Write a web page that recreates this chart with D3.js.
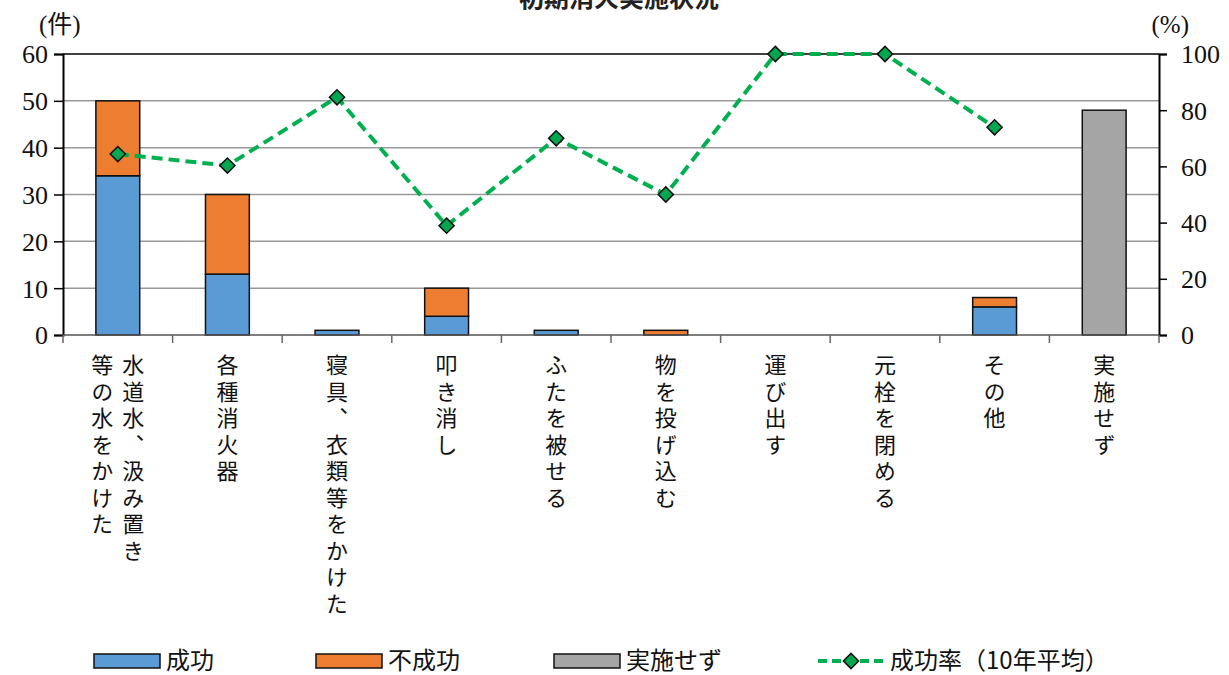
<!DOCTYPE html>
<html><head><meta charset="utf-8">
<script src="https://cdn.jsdelivr.net/npm/d3@7"></script>
<style>
html,body{margin:0;padding:0;background:#fff;}
svg{display:block;}
</style></head>
<body><svg id="chart" width="1229" height="675"></svg>
<script>
const title = "初期消火実施状況";
const categories = ["水道水、汲み置き\n等の水をかけた","各種消火器","寝具、衣類等をかけた","叩き消し","ふたを被せる","物を投げ込む","運び出す","元栓を閉める","その他","実施せず"];
const success =   [34, 13, 1, 4, 1, 0, 0, 0, 6, 0];
const failure =   [16, 17, 0, 6, 0, 1, 0, 0, 2, 0];
const notDone =   [0, 0, 0, 0, 0, 0, 0, 0, 0, 48];
const rate =      [64.4, 60.3, 84.6, 38.9, 70.0, 50.0, 100, 100, 73.9, null];
const leftTicks = [0,10,20,30,40,50,60];
const rightTicks = [0,20,40,60,80,100];
const legendLabels = ["成功","不成功","実施せず","成功率（10年平均）"];
const colors = {success:"#5B9BD5", failure:"#ED7D31", notDone:"#A5A5A5", line:"#00B050", marker:"#00A650"};

const svg = d3.select("#chart");
const L = 63, R = 1159, T = 54, B = 335;
const jp = "Noto Sans CJK JP, sans-serif";
const num = "Liberation Serif, Times New Roman, DejaVu Serif, serif";

const x = d3.scaleBand().domain(categories).range([L, R]).paddingInner(0.6).paddingOuter(0.3);
const yL = d3.scaleLinear().domain([0, 60]).range([B, T]);
const yR = d3.scaleLinear().domain([0, 100]).range([B, T]);
const gap = (x.step() - x.bandwidth()) / 2;

// title (cut off at top)
svg.append("text").attr("x", 619).attr("y", 7).attr("text-anchor", "middle")
  .style("font-family", jp).style("font-size", "25px").style("font-weight", "bold").attr("fill", "#222").text(title);

// gridlines
svg.append("g").selectAll("line").data(leftTicks.filter(d => d > 0 && d < 60)).join("line")
  .attr("x1", L).attr("x2", R).attr("y1", d => yL(d)).attr("y2", d => yL(d))
  .attr("stroke", "#999").attr("stroke-width", 1.5);
// top border
svg.append("line").attr("x1", L).attr("x2", R).attr("y1", yL(60)).attr("y2", yL(60)).attr("stroke", "#000").attr("stroke-width", 1.5);

// bars
const bars = svg.append("g");
categories.forEach((c, i) => {
  const segs = [];
  let base = 0;
  if (success[i] > 0) { segs.push({v0: base, v1: base + success[i], col: colors.success}); base += success[i]; }
  if (failure[i] > 0) { segs.push({v0: base, v1: base + failure[i], col: colors.failure}); base += failure[i]; }
  if (notDone[i] > 0) { segs.push({v0: base, v1: base + notDone[i], col: colors.notDone}); base += notDone[i]; }
  segs.forEach(s => {
    bars.append("rect").attr("x", x(c)).attr("width", x.bandwidth())
      .attr("y", yL(s.v1)).attr("height", yL(s.v0) - yL(s.v1))
      .attr("fill", s.col).attr("stroke", "#111").attr("stroke-width", 1.5);
  });
});

// left axis
const gl = svg.append("g").attr("transform", `translate(${L},0)`)
  .call(d3.axisLeft(yL).tickValues(leftTicks).tickSize(9).tickPadding(6));
gl.attr("font-family", num).attr("font-size", 26);
gl.select(".domain").attr("stroke", "#000").attr("stroke-width", 2);
gl.selectAll(".tick line").attr("stroke", "#000").attr("stroke-width", 1.5);
gl.selectAll(".tick text").attr("fill", "#111").attr("dy", "0.34em");

// right axis
const gr = svg.append("g").attr("transform", `translate(${R},0)`)
  .call(d3.axisRight(yR).tickValues(rightTicks).tickSize(8).tickPadding(14));
gr.attr("font-family", num).attr("font-size", 26);
gr.select(".domain").attr("stroke", "#000").attr("stroke-width", 2);
gr.selectAll(".tick line").attr("stroke", "#000").attr("stroke-width", 1.5);
gr.selectAll(".tick text").attr("fill", "#111").attr("dy", "0.34em");

// bottom axis line and category boundary ticks
svg.append("line").attr("x1", L).attr("x2", R).attr("y1", B).attr("y2", B).attr("stroke", "#555").attr("stroke-width", 1.5);
const bounds = categories.map(c => x(c) - gap).concat([R]);
svg.append("g").selectAll("line").data(bounds).join("line")
  .attr("x1", d => d).attr("x2", d => d).attr("y1", B).attr("y2", B + 8)
  .attr("stroke", "#666").attr("stroke-width", 1.5);

// unit labels
svg.append("text").attr("x", 39).attr("y", 33).attr("font-family", num + ", Noto Sans CJK JP").attr("font-size", 25).attr("fill", "#111").text("(件)");
svg.append("text").attr("x", 1189).attr("y", 33).attr("text-anchor", "end").attr("font-family", num).attr("font-size", 25).attr("fill", "#111").text("(%)");

// category labels (vertical)
const lab = svg.append("g");
categories.forEach(c => {
  const cols = c.split("\n");
  const cx = x(c) + x.bandwidth() / 2;
  const colGap = 31;
  cols.forEach((t, j) => {
    const off = (cols.length - 1) / 2 * colGap - j * colGap;
    lab.append("text").attr("x", cx + off).attr("y", 354)
      .style("writing-mode", "vertical-rl").style("text-orientation", "upright")
      .style("font-family", jp).style("font-size", "22px").attr("letter-spacing", 4.5)
      .attr("fill", "#111").text(t);
  });
});

// line
const pts = categories.map((c, i) => ({c, v: rate[i]})).filter(d => d.v != null);
svg.append("path").datum(pts)
  .attr("d", d3.line().x(d => x(d.c) + x.bandwidth() / 2).y(d => yR(d.v)))
  .attr("fill", "none").attr("stroke", colors.line).attr("stroke-width", 4).attr("stroke-dasharray", "11,6");
const diamond = d3.symbol().type(d3.symbolSquare).size(115);
svg.append("g").selectAll("path").data(pts).join("path")
  .attr("d", diamond)
  .attr("transform", d => `translate(${x(d.c) + x.bandwidth() / 2},${yR(d.v)}) rotate(45)`)
  .attr("fill", colors.marker).attr("stroke", "#111").attr("stroke-width", 1.5);

// legend
const lg = svg.append("g");
const ly = 660;
const items = [
  {x: 94, type: "rect", col: colors.success, label: legendLabels[0]},
  {x: 316, type: "rect", col: colors.failure, label: legendLabels[1]},
  {x: 554, type: "rect", col: colors.notDone, label: legendLabels[2]},
  {x: 818, type: "line", col: colors.line, label: legendLabels[3]}
];
items.forEach(it => {
  if (it.type === "rect") {
    lg.append("rect").attr("x", it.x).attr("y", ly - 6).attr("width", 66).attr("height", 14)
      .attr("fill", it.col).attr("stroke", "#111").attr("stroke-width", 1.5);
  } else {
    lg.append("line").attr("x1", it.x).attr("x2", it.x + 66).attr("y1", ly + 1).attr("y2", ly + 1)
      .attr("stroke", it.col).attr("stroke-width", 4).attr("stroke-dasharray", "9,5");
    lg.append("path").attr("d", diamond).attr("transform", `translate(${it.x + 33},${ly + 1}) rotate(45)`)
      .attr("fill", colors.marker).attr("stroke", "#111").attr("stroke-width", 1.5);
  }
  lg.append("text").attr("x", it.x + 72).attr("y", ly).attr("dy", "0.36em")
    .style("font-family", jp).style("font-size", "24px").attr("fill", "#111").text(it.label);
});
</script></body></html>
